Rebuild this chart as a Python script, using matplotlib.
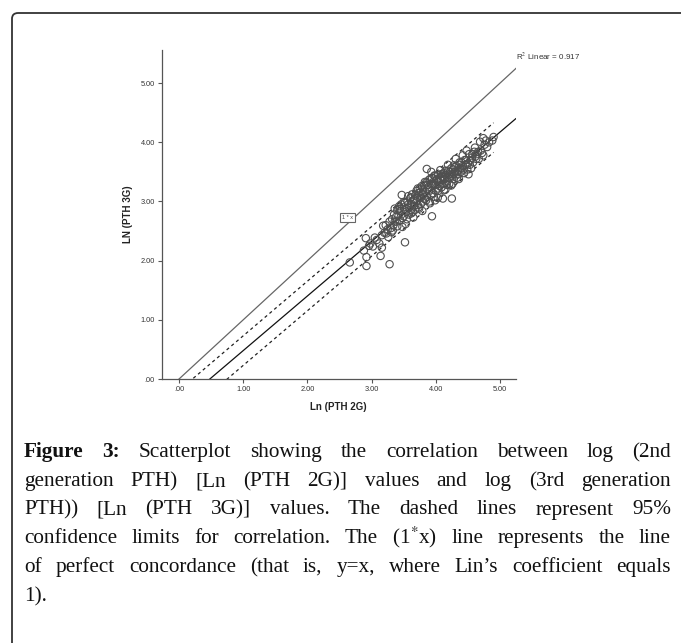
import matplotlib
matplotlib.use("Agg")
import matplotlib.pyplot as plt
from matplotlib.patches import FancyBboxPatch
import numpy as np

# scatter values: Ln (PTH 2G) vs Ln (PTH 3G)
pth2g = [2.66, 2.88, 2.91, 2.92, 2.92, 2.96, 2.98, 3.02, 3.05, 3.08,
         3.12, 3.14, 3.16, 3.16, 3.18, 3.20, 3.22, 3.23, 3.25, 3.28,
         3.28, 3.30, 3.32, 3.34, 3.35, 3.36, 3.38, 3.40, 3.40, 3.42,
         3.43, 3.44, 3.45, 3.46, 3.47, 3.48, 3.50, 3.50, 3.52, 3.52,
         3.54, 3.55, 3.56, 3.58, 3.58, 3.60, 3.61, 3.62, 3.63, 3.64,
         3.65, 3.66, 3.68, 3.68, 3.70, 3.70, 3.72, 3.73, 3.74, 3.75,
         3.76, 3.77, 3.78, 3.79, 3.80, 3.80, 3.82, 3.83, 3.84, 3.85,
         3.86, 3.86, 3.88, 3.89, 3.90, 3.90, 3.92, 3.93, 3.94, 3.94,
         3.95, 3.96, 3.97, 3.98, 3.99, 4.00, 4.00, 4.02, 4.03, 4.04,
         4.05, 4.06, 4.07, 4.08, 4.09, 4.10, 4.11, 4.12, 4.13, 4.14,
         4.15, 4.16, 4.18, 4.19, 4.20, 4.21, 4.22, 4.23, 4.24, 4.25,
         4.26, 4.28, 4.29, 4.30, 4.31, 4.32, 4.34, 4.35, 4.36, 4.38,
         4.39, 4.40, 4.42, 4.43, 4.45, 4.46, 4.48, 4.50, 4.51, 4.52,
         4.54, 4.56, 4.58, 4.60, 4.62, 4.64, 4.66, 4.69, 4.70, 4.72,
         4.74, 4.74, 4.76, 4.80, 4.88, 4.90,
         3.44, 3.57, 3.62, 3.67, 3.71, 3.76, 3.81, 3.87, 3.91, 3.96,
         4.01, 4.04, 4.08, 4.12, 4.17, 4.21, 4.27, 4.33, 4.37, 4.41,
         4.47, 4.53, 4.57, 4.63, 3.53, 3.39, 3.31, 3.26, 3.93, 3.85,
         4.15, 4.44, 3.73, 4.26,
         3.36, 3.48, 3.57, 3.65, 3.72, 3.79, 3.83, 3.91, 3.98, 4.03,
         4.07, 4.13, 4.19, 4.24, 4.31, 4.36, 4.42, 4.49, 4.55, 4.61,
         4.67, 4.78, 4.83, 3.61, 3.50, 3.42, 3.33, 3.97, 4.11, 4.28]
pth3g = [1.97, 2.17, 2.38, 2.06, 1.91, 2.25, 2.29, 2.24, 2.39, 2.35,
         2.29, 2.08, 2.22, 2.43, 2.59, 2.47, 2.60, 2.46, 2.53, 1.94,
         2.66, 2.55, 2.70, 2.60, 2.78, 2.66, 2.74, 2.85, 2.58, 2.76,
         2.92, 2.68, 2.84, 2.95, 3.11, 2.72, 2.90, 2.75, 2.31, 2.98,
         2.83, 2.70, 3.00, 2.90, 2.78, 3.05, 2.86, 2.96, 3.12, 2.82,
         3.02, 2.92, 3.10, 2.86, 3.00, 3.18, 2.94, 3.14, 2.88, 3.22,
         3.06, 2.96, 3.26, 3.12, 3.00, 3.20, 3.28, 3.04, 3.16, 3.32,
         3.55, 3.08, 3.24, 3.36, 3.00, 3.20, 3.30, 3.12, 2.75, 3.40,
         3.26, 3.14, 3.34, 3.44, 3.02, 3.28, 3.18, 3.38, 3.22, 3.45,
         3.32, 3.26, 3.40, 3.36, 3.24, 3.42, 3.05, 3.30, 3.48, 3.38,
         3.20, 3.44, 3.34, 3.52, 3.40, 3.30, 3.50, 3.42, 3.56, 3.05,
         3.46, 3.38, 3.58, 3.50, 3.44, 3.60, 3.52, 3.46, 3.62, 3.56,
         3.50, 3.66, 3.60, 3.54, 3.70, 3.62, 3.86, 3.64, 3.46, 3.80,
         3.70, 3.74, 3.66, 3.84, 3.76, 3.80, 3.84, 4.01, 3.86, 3.82,
         4.07, 3.78, 3.96, 3.92, 4.03, 4.09,
         2.88, 2.95, 2.80, 3.04, 3.08, 3.16, 3.12, 3.28, 3.38, 3.30,
         3.36, 3.18, 3.46, 3.40, 3.28, 3.46, 3.54, 3.40, 3.66, 3.56,
         3.70, 3.62, 3.80, 3.72, 2.62, 2.66, 2.48, 2.40, 3.50, 3.02,
         3.52, 3.48, 2.90, 3.30,
         2.88, 2.57, 3.09, 2.73, 3.22, 2.84, 3.33, 2.97, 3.43, 3.06,
         3.53, 3.19, 3.62, 3.27, 3.72, 3.38, 3.78, 3.54, 3.56, 3.91,
         3.72, 4.03, 4.00, 3.07, 2.99, 2.87, 2.51, 3.08, 3.47, 3.61]

# fitted line and its 95% band
fit_slope = 0.923
fit_intercept = -0.443
ci_offset = 0.25
ci_xmax = 4.90
r2_label = "R$^2$ Linear = 0.917"

ticks = [0, 1, 2, 3, 4, 5]
tick_labels = [".00", "1.00", "2.00", "3.00", "4.00", "5.00"]

caption_lines = [
    [("Figure", True), ("3:", True), ("Scatterplot", False), ("showing", False),
     ("the", False), ("correlation", False), ("between", False), ("log", False),
     ("(2nd", False)],
    [(w, False) for w in "generation PTH) [Ln (PTH 2G)] values and log (3rd generation".split()],
    [(w, False) for w in "PTH)) [Ln (PTH 3G)] values. The dashed lines represent 95%".split()],
    [(w, False) for w in "confidence limits for correlation. The (1$^{*}$x) line represents the line".split()],
    [(w, False) for w in "of perfect concordance (that is, y=x, where Lin\u2019s coefficient equals".split()],
    [(w, False) for w in "1).".split()],
]

plt.rcParams['mathtext.fontset'] = 'stix'
plt.rcParams['font.family'] = ['Liberation Sans', 'DejaVu Sans']

W, H = 681, 643
fig = plt.figure(figsize=(W / 100, H / 100), dpi=100)

# rounded frame, only left and top edges fall inside the picture
frame = FancyBboxPatch((12 / W, -0.2), 1.2, 1 - 13 / H + 0.2,
                       boxstyle="round,pad=0,rounding_size=0.009",
                       transform=fig.transFigure, fill=False,
                       edgecolor='#333333', linewidth=1.3)
fig.patches.append(frame)

ax = fig.add_axes([161.7 / W, 1 - 379 / H, 354 / W, 329 / H])
ax.set_xlim(-0.27, 5.245)
ax.set_ylim(0, 5.56)

xs = np.array([0, 5.3])
ax.plot(xs, xs, color='#666666', lw=0.9)

xf = np.array([0, 5.245])
ax.plot(xf, fit_slope * xf + fit_intercept, color='#111111', lw=0.9)
xc = np.array([0, ci_xmax])
for off in (ci_offset, -ci_offset):
    ax.plot(xc, fit_slope * xc + fit_intercept + off, color='#222222',
            lw=0.9, linestyle=(0, (2.5, 2.5)))

ax.scatter(pth2g, pth3g, s=28, facecolors='none', edgecolors='#505050',
           linewidths=0.8, zorder=3)

ax.text(2.62, 2.73, "1 * x", fontsize=4, ha='center', va='center', color='#444444',
        bbox=dict(boxstyle='square,pad=0.35', fc='white', ec='#666666', lw=0.8))
ax.text(1.0, 1.0 - (56 - 50) / 329, r2_label, transform=ax.transAxes,
        fontsize=5.8, ha='left', va='center', color='#333333', clip_on=False)

for side in ('top', 'right'):
    ax.spines[side].set_visible(False)
for side in ('left', 'bottom'):
    ax.spines[side].set_color('#555555')
    ax.spines[side].set_linewidth(0.9)

ax.set_xticks(ticks)
ax.set_xticklabels(tick_labels)
ax.set_yticks(ticks)
ax.set_yticklabels(tick_labels)
ax.tick_params(length=3, width=0.8, color='#555555', labelsize=5.3,
               labelcolor='#333333', pad=2)

ax.set_xlabel("Ln (PTH 2G)", fontsize=7, fontweight='bold', color='#222222')
ax.set_ylabel("LN (PTH 3G)", fontsize=7, fontweight='bold', color='#222222')
ax.xaxis.set_label_coords(0.5, (379 - 406.7) / 329)
ax.xaxis.label.set_va('center')
ax.yaxis.set_label_coords((128 - 161.7) / 354, 0.5)
ax.yaxis.label.set_va('center')

# justified caption, words placed one by one
renderer = fig.canvas.get_renderer()
left_px, right_px = 24, 671
baselines = [457, 486, 514.5, 543, 572, 601]
cap_size = 15.3
for i, line in enumerate(caption_lines):
    texts = []
    widths = []
    for word, bold in line:
        t = fig.text(0, 0, word, fontsize=cap_size, family='Liberation Serif',
                     fontweight='bold' if bold else 'normal', color='#111111',
                     va='baseline', ha='left')
        texts.append(t)
        widths.append(t.get_window_extent(renderer).width)
    last = i == len(caption_lines) - 1
    if last or len(texts) == 1:
        gap = cap_size * 100 / 72 * 0.25
    else:
        gap = (right_px - left_px - sum(widths)) / (len(texts) - 1)
    x = left_px
    for t, w in zip(texts, widths):
        t.set_position((x / W, 1 - baselines[i] / H))
        x += w + gap

fig.savefig("out.png", dpi=100)
